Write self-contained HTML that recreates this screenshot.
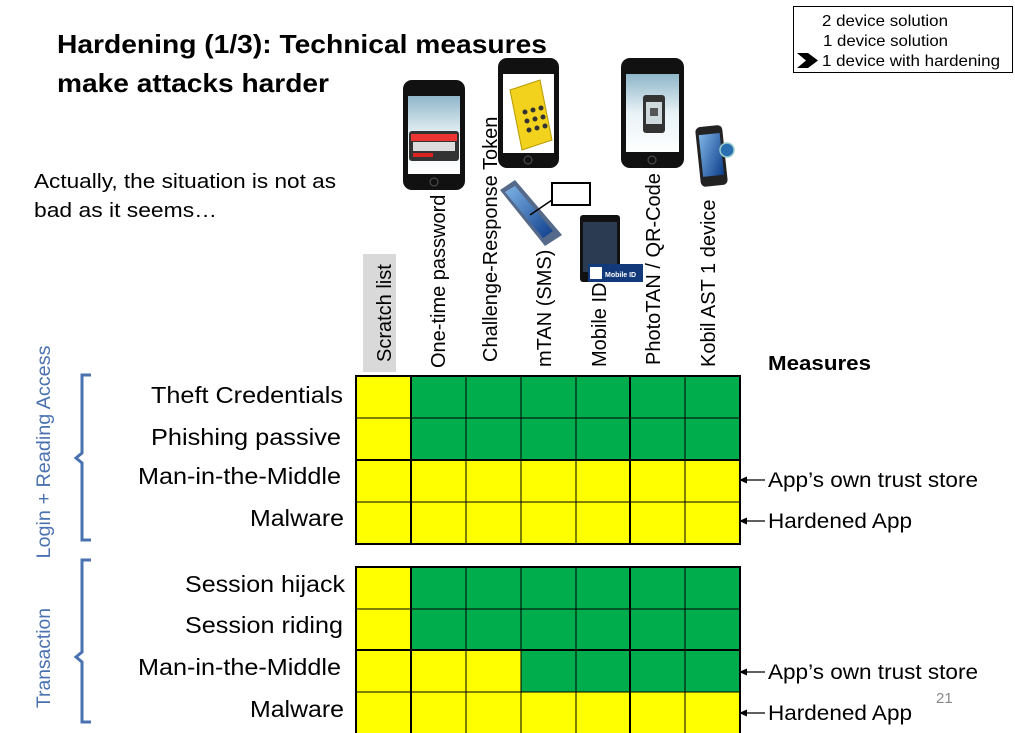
<!DOCTYPE html>
<html><head><meta charset="utf-8"><style>
html,body{margin:0;padding:0;background:#fff;}
svg{display:block;font-family:"Liberation Sans",Arial,sans-serif;}
</style></head><body>
<svg width="1015" height="733" viewBox="0 0 1015 733" xmlns="http://www.w3.org/2000/svg">
<defs>
<linearGradient id="scr" x1="0" y1="0" x2="0" y2="1">
<stop offset="0" stop-color="#8fb6c9"/><stop offset="0.5" stop-color="#e8f2f6"/><stop offset="1" stop-color="#ffffff"/></linearGradient>
<linearGradient id="blu" x1="0" y1="0" x2="1" y2="1">
<stop offset="0" stop-color="#7fb4e6"/><stop offset="1" stop-color="#0d3d8a"/></linearGradient>
</defs>
<!-- Title -->
<text x="57" y="53" font-size="26" font-weight="bold" textLength="490" lengthAdjust="spacingAndGlyphs">Hardening (1/3): Technical measures</text>
<text x="57" y="92" font-size="26" font-weight="bold" textLength="272" lengthAdjust="spacingAndGlyphs">make attacks harder</text>
<text x="34" y="188" font-size="20" textLength="302" lengthAdjust="spacingAndGlyphs">Actually, the situation is not as</text>
<text x="34" y="217" font-size="20" textLength="183" lengthAdjust="spacingAndGlyphs">bad as it seems…</text>

<!-- Legend -->
<rect x="793.5" y="6.5" width="219" height="66" fill="#fff" stroke="#000"/>
<text x="822" y="26" font-size="16" textLength="126" lengthAdjust="spacingAndGlyphs">2 device solution</text>
<text x="823" y="46" font-size="16" textLength="125" lengthAdjust="spacingAndGlyphs">1 device solution</text>
<text x="822" y="66" font-size="16" textLength="178" lengthAdjust="spacingAndGlyphs">1 device with hardening</text>
<polygon points="797,53 808,53 818,60.5 808,68 797,68 806,60.5" fill="#000"/>

<!-- Phones -->
<g>
<rect x="403" y="80" width="62" height="110" rx="9" fill="#111"/>
<rect x="408" y="96" width="52" height="78" fill="url(#scr)"/>
<rect x="409" y="131" width="50" height="30" rx="3" fill="#333"/>
<rect x="411" y="134" width="46" height="7" fill="#e33"/>
<rect x="413" y="142" width="42" height="9" fill="#ddd"/>
<rect x="413" y="153" width="20" height="4" fill="#d22"/>
<circle cx="434" cy="182" r="4" fill="none" stroke="#555"/>
</g>
<g>
<rect x="498" y="58" width="61" height="110" rx="9" fill="#111"/>
<rect x="503" y="74" width="51" height="79" fill="#fff"/>
<polygon points="510,90 540,80 552,140 522,150" fill="#f2d21c" stroke="#b59b00"/>
<g fill="#333"><circle cx="525" cy="112" r="2.5"/><circle cx="533" cy="110" r="2.5"/><circle cx="541" cy="108" r="2.5"/><circle cx="527" cy="121" r="2.5"/><circle cx="535" cy="119" r="2.5"/><circle cx="543" cy="117" r="2.5"/><circle cx="529" cy="130" r="2.5"/><circle cx="537" cy="128" r="2.5"/><circle cx="545" cy="126" r="2.5"/></g>
<circle cx="528" cy="160" r="4" fill="none" stroke="#555"/>
</g>
<g>
<rect x="580" y="215" width="40" height="67" rx="3" fill="#111"/>
<rect x="583" y="222" width="34" height="50" fill="#2a3b52"/>
</g>
<g>
<rect x="621" y="58" width="63" height="110" rx="9" fill="#111"/>
<rect x="626" y="74" width="53" height="78" fill="url(#scr)"/>
<rect x="643" y="95" width="22" height="38" rx="3" fill="#333"/>
<rect x="646" y="102" width="16" height="22" fill="#cfd8dc"/>
<rect x="650" y="108" width="8" height="8" fill="#555"/>
<circle cx="652" cy="160" r="4" fill="none" stroke="#555"/>
</g>
<g>
<rect x="698" y="126" width="27" height="60" rx="5" fill="#222" transform="rotate(-6 711 156)"/>
<rect x="701" y="134" width="21" height="42" fill="url(#blu)" transform="rotate(-6 711 156)"/>
<circle cx="727" cy="150" r="7" fill="#2a6fb0" stroke="#9cc" stroke-width="1.5"/>
</g>

<!-- Column labels -->
<rect x="363" y="254" width="33" height="118" fill="#d9d9d9"/>
<g font-size="20">
<text transform="translate(391,362) rotate(-90)">Scratch list</text>
<text transform="translate(445,368) rotate(-90)">One-time password</text>
<text transform="translate(497,362) rotate(-90)">Challenge-Response Token</text>
<text transform="translate(551,367) rotate(-90)">mTAN (SMS)</text>
<text transform="translate(606,367) rotate(-90)">Mobile ID</text>
<text transform="translate(660,365) rotate(-90)">PhotoTAN / QR-Code</text>
<text transform="translate(715,367) rotate(-90)">Kobil AST 1 device</text>
</g>
<!-- mTAN phone over text -->
<g>
<polygon points="500,190 515,180 562,235 545,246" fill="#556a8a"/>
<polygon points="505,192 515,186 553,231 543,238" fill="url(#blu)"/>
<rect x="552" y="183" width="38" height="22" fill="#fff" stroke="#000" stroke-width="2"/>
<line x1="552" y1="200" x2="530" y2="215" stroke="#000" stroke-width="1.5"/>
</g>
<rect x="588" y="264" width="55" height="18" fill="#123a7a"/>
<rect x="590" y="267" width="12" height="12" fill="#fff"/>
<text x="605" y="277" font-size="7" font-weight="bold" fill="#fff">Mobile ID</text>

<text x="768" y="370" font-size="20" font-weight="bold" textLength="103" lengthAdjust="spacingAndGlyphs">Measures</text>

<!-- Grid block 1 -->
<g stroke="#000" stroke-width="1">
<rect x="356" y="376" width="55" height="42" fill="#ffff00"/>
<rect x="356" y="418" width="55" height="42" fill="#ffff00"/>
<rect x="411" y="376" width="329" height="84" fill="#00ad4c"/>
<rect x="356" y="460" width="384" height="84" fill="#ffff00"/>
<path d="M466 376V544M521 376V544M576 376V544M685 376V544M356 418H740M356 502H740" fill="none"/>
<path d="M411 376V544M630 376V544M356 460H740" fill="none" stroke-width="2"/>
<rect x="356" y="376" width="384" height="168" fill="none" stroke-width="2"/>
</g>
<!-- Grid block 2 -->
<g stroke="#000" stroke-width="1">
<rect x="356" y="567" width="384" height="167" fill="#ffff00"/>
<rect x="411" y="567" width="329" height="83" fill="#00ad4c"/>
<rect x="521" y="650" width="219" height="42" fill="#00ad4c"/>
<path d="M466 567V734M521 567V734M576 567V734M685 567V734M356 609H740M356 692H740" fill="none"/>
<path d="M411 567V734M630 567V734M356 650H740" fill="none" stroke-width="2"/>
<rect x="356" y="567" width="384" height="167" fill="none" stroke-width="2"/>
</g>

<!-- Row labels -->
<g font-size="23" text-anchor="end" lengthAdjust="spacingAndGlyphs">
<text x="343" y="403" textLength="192" lengthAdjust="spacingAndGlyphs">Theft Credentials</text>
<text x="341" y="445" textLength="190" lengthAdjust="spacingAndGlyphs">Phishing passive</text>
<text x="341" y="484" textLength="203" lengthAdjust="spacingAndGlyphs">Man-in-the-Middle</text>
<text x="344" y="526" textLength="94" lengthAdjust="spacingAndGlyphs">Malware</text>
<text x="345" y="592" textLength="160" lengthAdjust="spacingAndGlyphs">Session hijack</text>
<text x="343" y="633" textLength="158" lengthAdjust="spacingAndGlyphs">Session riding</text>
<text x="341" y="675" textLength="203" lengthAdjust="spacingAndGlyphs">Man-in-the-Middle</text>
<text x="344" y="717" textLength="94" lengthAdjust="spacingAndGlyphs">Malware</text>
</g>

<!-- Arrows -->
<g stroke="#000" stroke-width="1.3">
<line x1="745" y1="480" x2="765" y2="480"/><line x1="745" y1="521" x2="765" y2="521"/>
<line x1="745" y1="672" x2="765" y2="672"/><line x1="745" y1="713" x2="765" y2="713"/>
</g>
<g fill="#000">
<polygon points="739,480 747,476.5 747,483.5"/><polygon points="739,521 747,517.5 747,524.5"/>
<polygon points="739,672 747,668.5 747,675.5"/><polygon points="739,713 747,709.5 747,716.5"/>
</g>
<g font-size="21">
<text x="768" y="487" textLength="210" lengthAdjust="spacingAndGlyphs">App’s own trust store</text>
<text x="768" y="528" textLength="144" lengthAdjust="spacingAndGlyphs">Hardened App</text>
<text x="768" y="679" textLength="210" lengthAdjust="spacingAndGlyphs">App’s own trust store</text>
<text x="768" y="720" textLength="144" lengthAdjust="spacingAndGlyphs">Hardened App</text>
</g>
<text x="936" y="703" font-size="15" fill="#888">21</text>

<!-- Brackets -->
<g stroke="#4a72b0" stroke-width="3" fill="none">
<path d="M91 375H82V453L76 458L82 463V540H91"/>
<path d="M91 560H82V652L76 657L82 662V722H91"/>
</g>
<g font-size="19" fill="#4a72b0" text-anchor="middle">
<text transform="translate(50,452) rotate(-90)" textLength="213" lengthAdjust="spacingAndGlyphs">Login + Reading Access</text>
<text transform="translate(50,658) rotate(-90)" textLength="100" lengthAdjust="spacingAndGlyphs">Transaction</text>
</g>
</svg>
</body></html>
